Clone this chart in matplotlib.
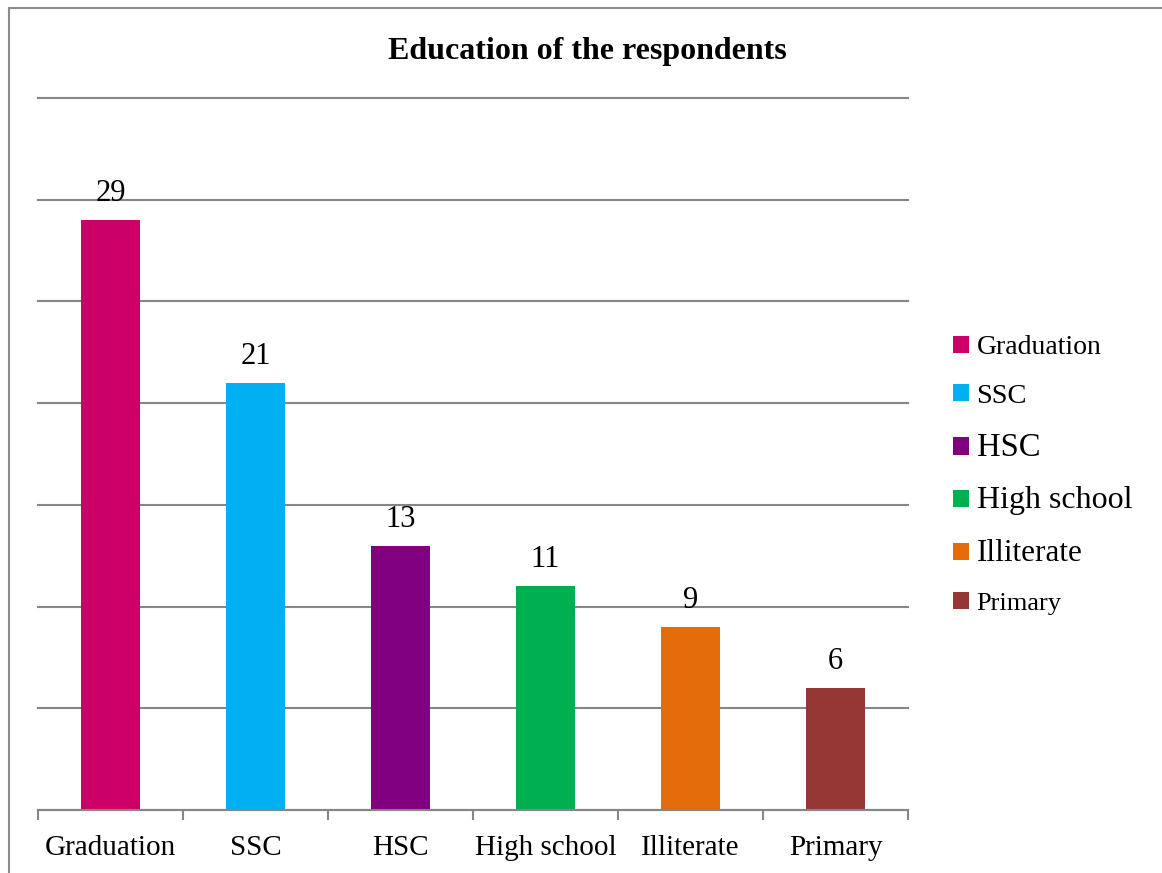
import matplotlib
matplotlib.use("Agg")
import matplotlib.pyplot as plt
from matplotlib.lines import Line2D
from matplotlib.patches import Patch

categories = ["Graduation", "SSC", "HSC", "High school", "Illiterate", "Primary"]
counts = [29, 21, 13, 11, 9, 6]
colors = ["#CC0066", "#00B0F0", "#800080", "#00B050", "#E46C0A", "#953735"]
legend_sizes = [20, 20.5, 23.5, 23, 22.5, 19]

plt.rcParams["font.family"] = ["Liberation Serif", "DejaVu Serif"]

W, H = 1162, 873
fig = plt.figure(figsize=(W / 100, H / 100), dpi=100)
fig.patch.set_facecolor("white")

# outer chart frame (left and top edges)
fig.add_artist(Line2D([8.5 / W, 8.5 / W], [0, 1 - 7.5 / H], color="#8c8c8c", lw=1.5))
fig.add_artist(Line2D([8.5 / W, 1], [1 - 7.5 / H, 1 - 7.5 / H], color="#8c8c8c", lw=1.5))

ax = fig.add_axes([38 / W, 1 - 810 / H, 870 / W, 712 / H])
x = list(range(len(categories)))
bars = ax.bar(x, counts, width=0.41, color=colors, zorder=3)

ax.set_xlim(-0.5, len(categories) - 0.5)
ax.set_ylim(0, 35)
ax.set_yticks(range(0, 36, 5))
ax.yaxis.grid(True, color="#868686", lw=1.5, zorder=0)
for gl in ax.get_ygridlines():
    gl.set_clip_on(False)
ax.tick_params(axis="y", left=False, labelleft=False)
for s in ["left", "right", "top"]:
    ax.spines[s].set_visible(False)
ax.spines["bottom"].set_color("#868686")
ax.spines["bottom"].set_linewidth(1.5)
ax.spines["bottom"].set_zorder(4)

# category boundary ticks below the baseline
ax.set_xticks([i - 0.5 for i in range(len(categories) + 1)])
ax.set_xticklabels([])
ax.tick_params(axis="x", direction="out", length=7, width=1.5, color="#868686")
ax.set_xticks(x, minor=True)
ax.set_xticklabels(categories, minor=True, fontsize=21)
ax.tick_params(axis="x", which="minor", length=0, pad=18)

for b, v in zip(bars, counts):
    ax.annotate(str(v), (b.get_x() + b.get_width() / 2, v), xytext=(0, 19),
                textcoords="offset points", ha="center", va="center", fontsize=22)

fig.text(587 / W, 1 - 52 / H, "Education of the respondents", ha="center",
         va="center", fontsize=23, fontweight="bold")

handles = [Patch(facecolor=c, edgecolor="none") for c in colors]
leg = fig.legend(handles, categories, loc="upper left",
                 bbox_to_anchor=(953 / W, 1 - 335 / H), frameon=False,
                 handlelength=0.58, handleheight=0.58, handletextpad=0.27,
                 labelspacing=0.85, fontsize=20, borderaxespad=0, borderpad=0)
for t, s in zip(leg.get_texts(), legend_sizes):
    t.set_fontsize(s)

fig.savefig("out.png", dpi=100)
